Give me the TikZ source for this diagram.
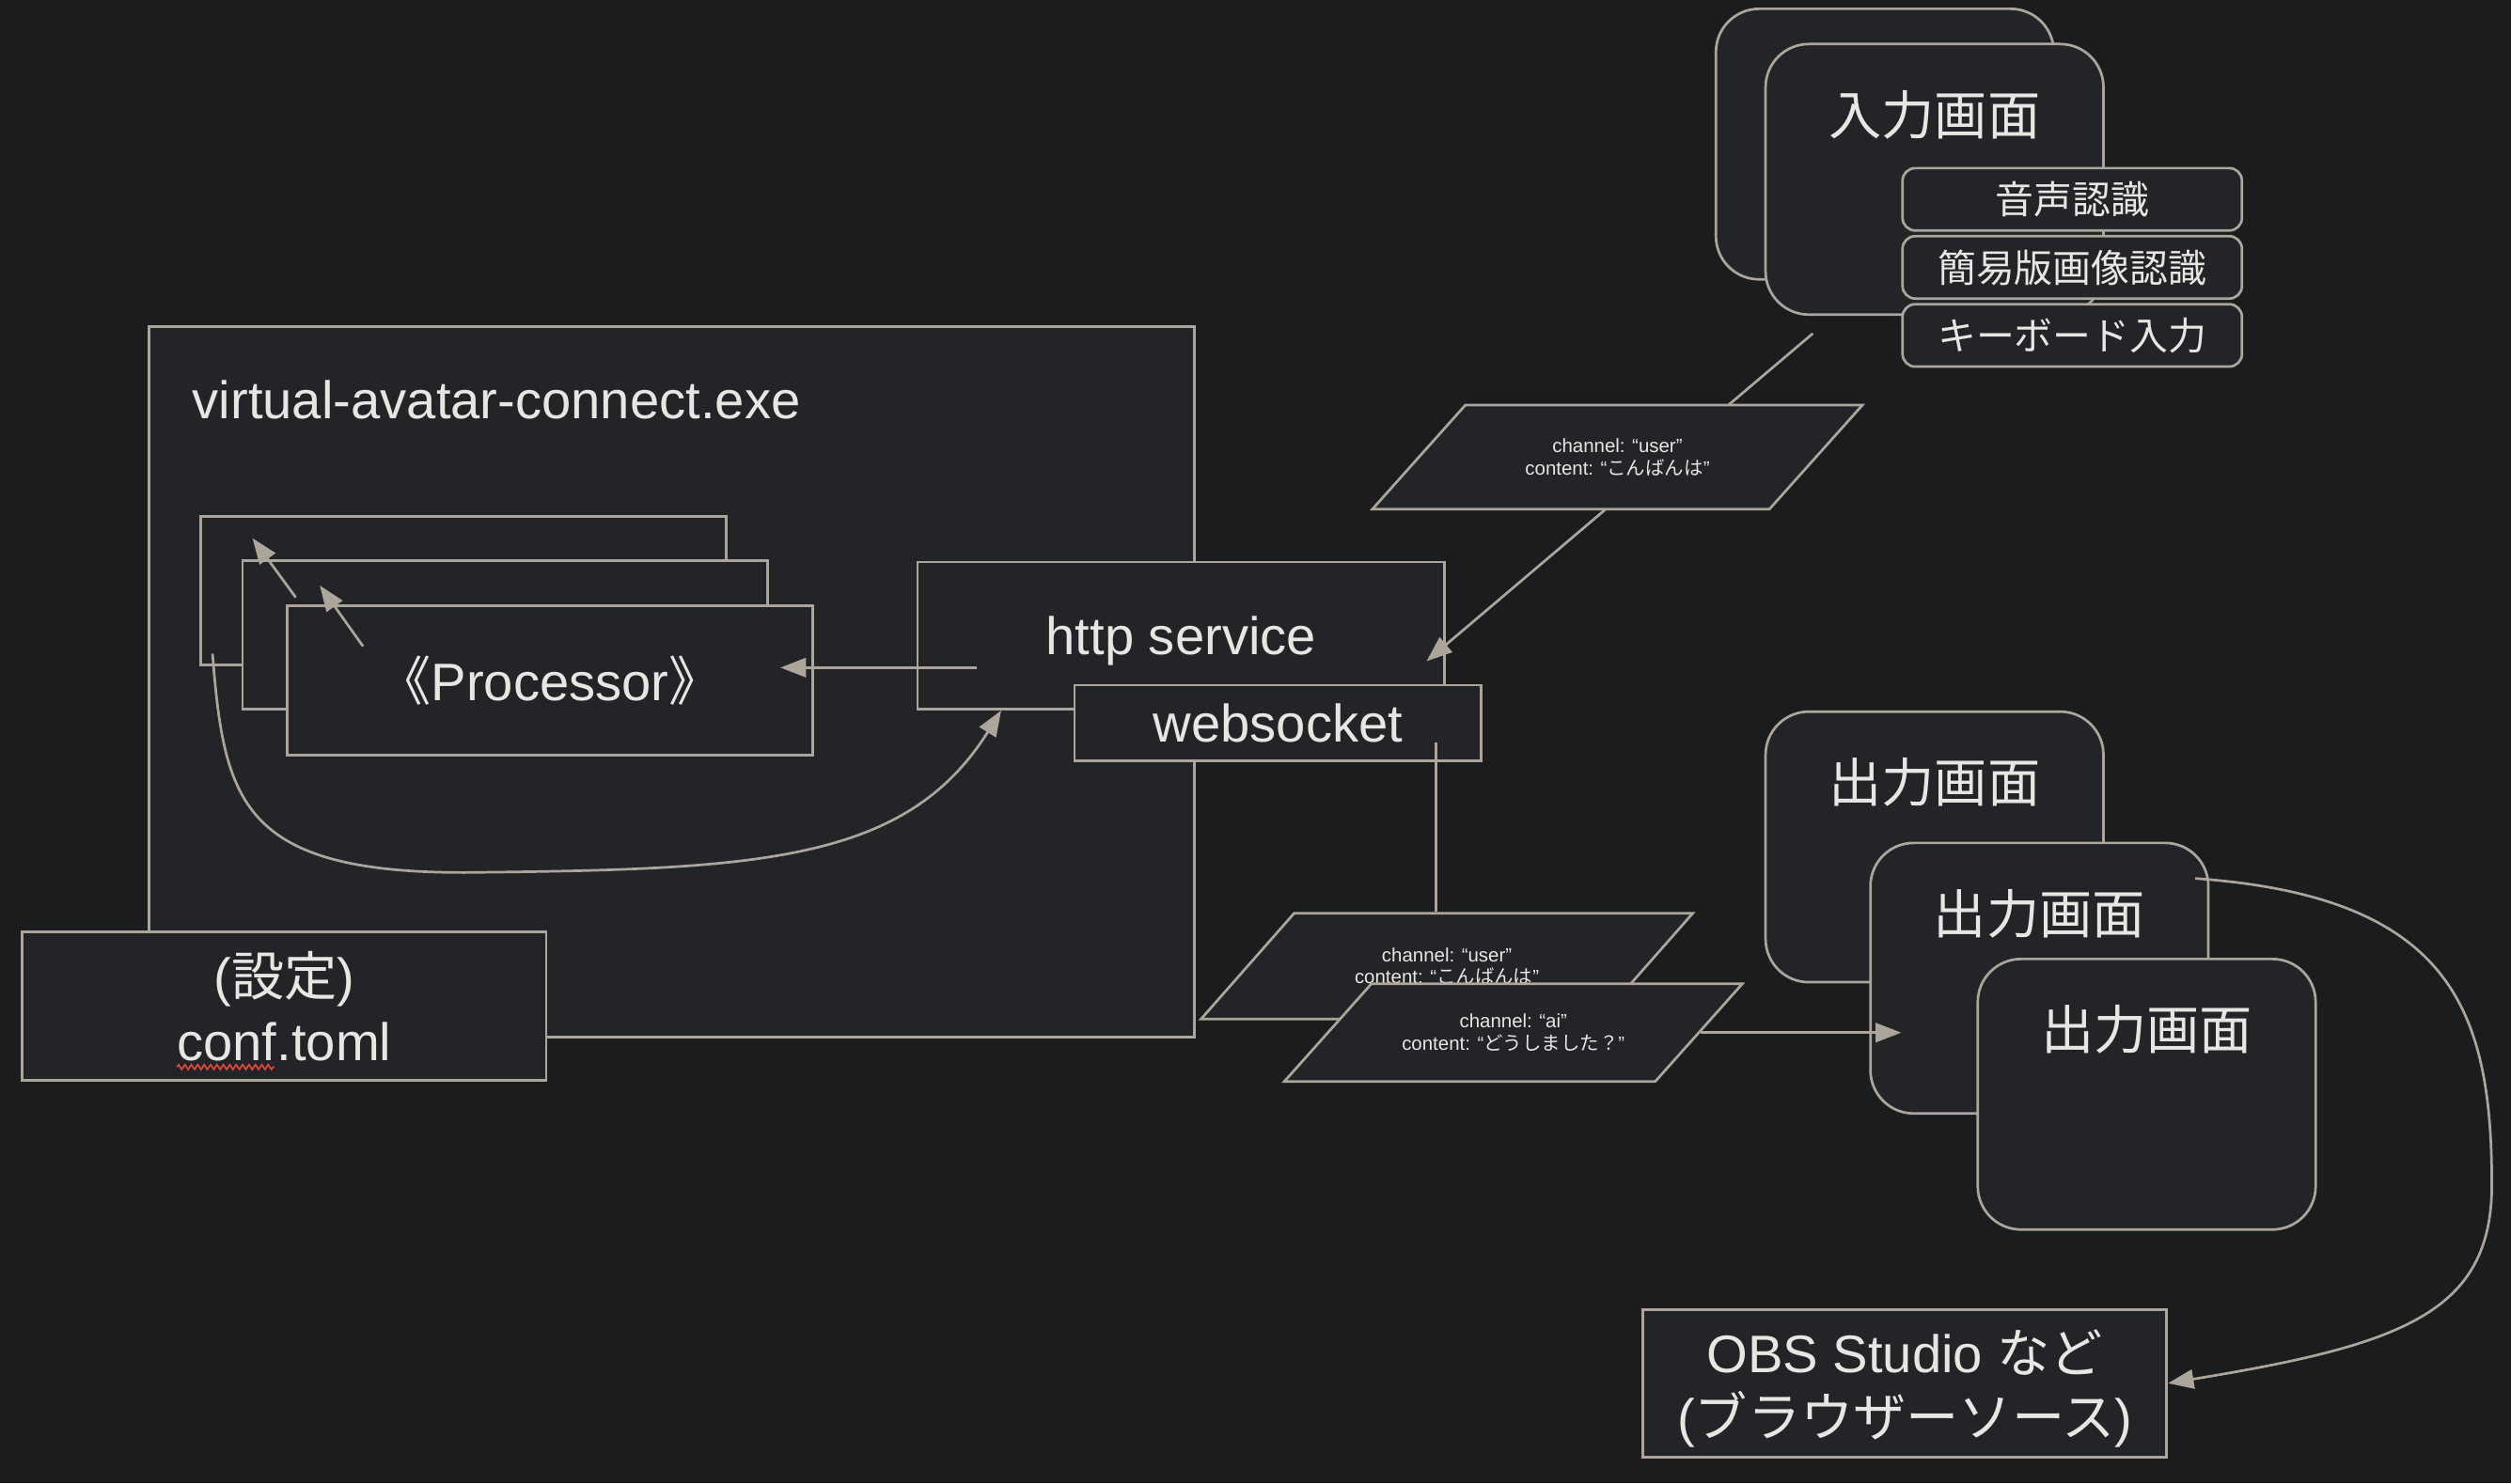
\documentclass[tikz,border=0pt]{standalone}
\usepackage{fontspec}
\setmainfont{Liberation Sans}
\newfontfamily\jp{Noto Sans CJK JP}
\usetikzlibrary{shapes.geometric,arrows.meta,positioning,calc,decorations.pathmorphing}
\definecolor{bgc}{HTML}{1B1C1E}
\definecolor{boxc}{HTML}{232427}
\definecolor{linec}{HTML}{ABA59C}
\definecolor{txtc}{HTML}{E8E6E3}
\definecolor{squig}{HTML}{E0473F}
\tikzset{
block/.style = {draw=linec, fill=boxc, rectangle, line width=1.6pt, text=txtc, align=center, inner sep=0pt},
screen/.style = {block, rounded corners=27pt, minimum width=211pt, minimum height=169pt},
tagbox/.style = {block, rounded corners=8pt, minimum width=212pt, minimum height=39pt, font=\jp\fontsize{24}{28}\selectfont},
procbox/.style = {block, minimum width=328pt, minimum height=93pt},
msg/.style = {block, trapezium, trapezium left angle=47, trapezium right angle=133, trapezium stretches body, inner ysep=19.5pt, minimum height=65pt, font=\fontsize{12}{14}\selectfont},
bigtext/.style = {font=\fontsize{33}{40}\selectfont},
jpbig/.style = {font=\jp\fontsize{33}{40}\selectfont},
words/.style = {text=txtc, inner sep=0pt},
wire/.style = {draw=linec, line width=1.6pt}
}
\begin{document}
\begin{tikzpicture}[x=1pt, y=-1pt, >={Triangle[length=16pt,width=12pt]}, node distance=42.5pt]
    \fill [bgc] (0,0) rectangle (1568,926.37);
    \useasboundingbox (0,0) rectangle (1568,926.37);

    % input side
    \node [screen, name=inback] at (1177,90) {};
    \node [screen, name=infront] at ($(inback)+(31,22)$) {};
    \node [words, jpbig] (intitle) at ($(infront.north)+(0,45)$) {入力画面};
    \node [tagbox, name=voice] at (1294,124.5) {音声認識};
    \node [tagbox, name=camera, below of = voice] {簡易版画像認識};
    \node [tagbox, name=keys, below of = camera] {キーボード入力};

    % the exe and its parts
    \node [block, name=exe, minimum width=653pt, minimum height=444pt] at (419.5,426) {};
    \node [words, bigtext, anchor=west] (exename) at (120,250) {virtual-avatar-connect.exe};
    \node [procbox, name=proc3] at (289.5,369) {};
    \node [procbox, name=proc2] at ($(proc3)+(26,27.5)$) {};
    \draw [wire,->] ($(proc2.north west)+(34,24)$) -- ($(proc2.north west)+(7,-13)$);
    \node [procbox, name=proc, bigtext] at ($(proc2)+(28,28.5)$) {{\jp 《}Processor{\jp 》}};
    \draw [wire,->] ($(proc.north west)+(48,26)$) -- ($(proc.north west)+(21,-12)$);
    \node [block, bigtext, name=http, minimum width=329pt, minimum height=92pt, text depth=0pt] at (737.5,397) {http service};
    \node [block, bigtext, name=ws, minimum width=254pt, minimum height=47pt] at (798,451.5) {websocket};
    \node [block, bigtext, name=conf, minimum width=327pt, minimum height=93pt] at (177.5,628.5) {({\jp 設定})\\conf.toml};
    \draw [draw=squig, line width=1pt, decorate, decoration={zigzag, segment length=4pt, amplitude=1.5pt}] ($(conf.center)+(-67,38)$) -- ($(conf.center)+(-6,38)$);

    \draw [wire,->] ($(http.west)+(38,20)$) -- ($(proc.east)+(-21,-8)$);
    \draw [wire,->] ($(proc3.south west)+(8,-8)$) .. controls (140,500) and (150,545) .. (290,545)
        .. controls (470,543) and (565,540) .. ($(http.south west)+(53,0)$);

    % messages
    \coordinate (infoot) at ($(infront.south)+(-76,11)$);
    \draw [wire,->] (infoot) -- ($(http.east)+(-12,16)$);
    \node [msg, name=user1, minimum width=306pt] at (1010,285.5) {channel: “user”\\content: “{\jp こんばんは}”};
    \node [msg, name=user2, minimum width=307pt, minimum height=66pt] at (903.5,603.5) {channel: “user”\\content: “{\jp こんばんは}”};
    \coordinate (wsout) at ($(ws.east)+(-29,12.5)$);
    \draw [wire] (wsout) -- (wsout |- user2.north);
    \node [msg, name=ai, minimum width=286pt, minimum height=61pt, inner ysep=17.5pt] at (945,645) {channel: “ai”\\content: “{\jp どうしました？}”};

    % output side
    \node [screen, name=out1] at (1208,529) {};
    \node [words, jpbig] (out1title) at ($(out1.north)+(0,45)$) {出力画面};
    \node [screen, name=out2] at ($(out1)+(65.5,82)$) {};
    \node [words, jpbig] (out2title) at ($(out2.north)+(0,45)$) {出力画面};
    \node [screen, name=out3] at ($(out2)+(67,72.5)$) {};
    \node [words, jpbig] (out3title) at ($(out3.north)+(0,45)$) {出力画面};
    \node [block, bigtext, name=obs, minimum width=327pt, minimum height=92pt, text depth=0pt] at (1189.5,864) {OBS Studio {\jp など}\\({\jp ブラウザーソース})};

    \coordinate (outin) at ($(out2.west)+(20,0)$);
    \draw [wire,->] (ai.east) -- (ai.east -| outin);
    \draw [wire,->] ($(out2.north east)+(-9,23)$) .. controls (1530,560) and (1556,630) .. (1556,740)
        .. controls (1556,820) and (1500,840) .. (obs.east);
\end{tikzpicture}
\end{document}
